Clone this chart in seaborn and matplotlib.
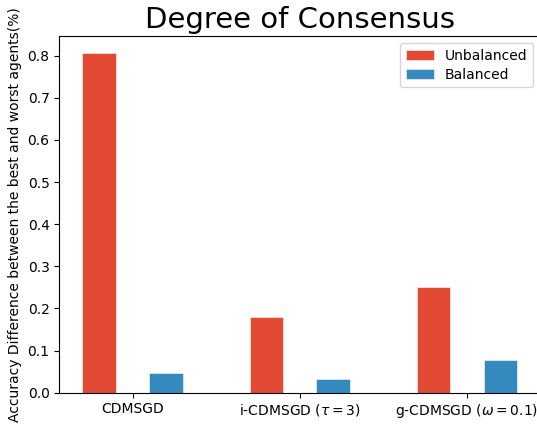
import matplotlib
matplotlib.use("Agg")
import matplotlib.pyplot as plt
import seaborn as sns
import pandas as pd

methods = ["CDMSGD", r"i-CDMSGD ($\tau=3$)", r"g-CDMSGD ($\omega=0.1$)"]
unbalanced = [0.807, 0.179, 0.250]
balanced = [0.046, 0.032, 0.078]
series = ["Unbalanced", "Balanced"]
colors = ["#E24A33", "#348ABD"]

df = pd.DataFrame({
    "method": methods * 2,
    "value": unbalanced + balanced,
    "series": [series[0]] * 3 + [series[1]] * 3,
})

plt.rcParams["font.family"] = ["DejaVu Sans"]

fig = plt.figure(figsize=(5.37, 4.24), dpi=100)
left_px, right_px = 59.3, 540.0
ax = fig.add_axes([left_px / 537, 0.074, (right_px - left_px) / 537, 0.840])
sns.barplot(data=df, x="method", y="value", hue="series", hue_order=series,
            palette=colors, width=0.8, gap=0.5, ax=ax,
            edgecolor="#EEEEEE", linewidth=0.5, saturation=1)
ax.set_xlim(-0.438, 2.438)
ax.set_ylim(0, 0.8457)
ax.set_yticks([0.0, 0.1, 0.2, 0.3, 0.4, 0.5, 0.6, 0.7, 0.8])
ax.set_xlabel("")
ax.set_ylabel("Accuracy Difference between the best and worst agents(%)", fontsize=10)
ax.set_title("Degree of Consensus", fontsize=21)
ax.tick_params(axis="both", which="both", length=3.5, width=0.8, direction="out",
               bottom=True, left=True, labelsize=10)
ax.legend(loc="upper right", fontsize=10, labelspacing=0.35)
fig.savefig("out.png", dpi=100)
